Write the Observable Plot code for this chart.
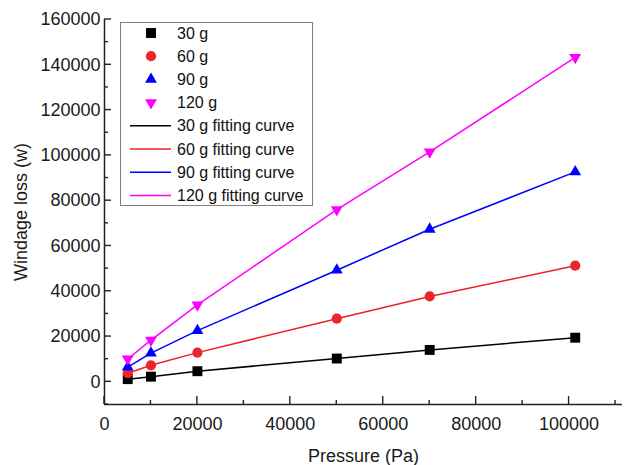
<!DOCTYPE html>
<html><head><meta charset="utf-8">
<script src="https://cdn.jsdelivr.net/npm/d3@7"></script>
<script src="https://cdn.jsdelivr.net/npm/@observablehq/plot@0.6"></script>
<style>body{margin:0;background:#fff}</style>
</head><body><div id="chart"></div>
<script>
const pressure = [5000, 10000, 20000, 50000, 70000, 101325];
const loss30 = [1200, 2300, 4700, 10300, 14100, 19500];
const loss60 = [3800, 7300, 12900, 27900, 37700, 51300];
const loss90 = [6500, 12700, 22600, 49300, 67400, 92700];
const loss120 = [10100, 18400, 34000, 76000, 101500, 143300];
const seriesNames = ["30 g", "60 g", "90 g", "120 g"];
const seriesColors = ["#000000", "#e8262b", "#0000ff", "#ff00ff"];
const lineColors = ["#000000", "#f02020", "#0000ff", "#ff00ff"];
const xMajor = [0, 20000, 40000, 60000, 80000, 100000];
const xMinor = [10000, 30000, 50000, 70000, 90000, 110000];
const yMajor = [0, 20000, 40000, 60000, 80000, 100000, 120000, 140000, 160000];
const yMinor = [-10000, 10000, 30000, 50000, 70000, 90000, 110000, 130000, 150000];

const allSeries = [loss30, loss60, loss90, loss120];
const rows = [];
allSeries.forEach((arr, i) => arr.forEach((v, j) => rows.push({s: seriesNames[i], i, x: pressure[j], y: v})));

const symbols = ["square", "circle", "triangle", "triangle"];
const rot = [0, 0, 0, 180];
const rs = [5.6, 5.1, 4.4, 4.4];

const font = "Liberation Sans, Arial, sans-serif";
const marks = [];
seriesNames.forEach((name, i) => {
  const d = rows.filter(r => r.i === i);
  marks.push(Plot.line(d, {x: "x", y: "y", stroke: lineColors[i], strokeWidth: 1.5}));
});
seriesNames.forEach((name, i) => {
  const d = rows.filter(r => r.i === i);
  marks.push(Plot.dot(d, {x: "x", y: "y", symbol: () => symbols[i], fill: seriesColors[i], r: rs[i], rotate: rot[i], stroke: "none"}));
});

const axisColor = "#222";
const plot = Plot.plot({
  width: 625, height: 465,
  marginLeft: 104, marginRight: 3, marginTop: 19, marginBottom: 61,
  style: {fontFamily: font, fontSize: "18px", color: "#1a1a1a", background: "#fff"},
  x: {domain: [0, 111500]},
  y: {domain: [-10000, 160000]},
  symbol: {type: "identity"},
  marks: [
    Plot.axisX({ticks: xMajor, tickSize: 0, tickPadding: 13, tickFormat: d => String(d), label: "Pressure (Pa)", labelAnchor: "center", labelArrow: "none", labelOffset: 57, fontSize: 18}),
    Plot.axisY({ticks: yMajor, tickSize: 0, tickPadding: 4, tickFormat: d => String(d), label: "Windage loss (w)", labelAnchor: "center", labelArrow: "none", labelOffset: 90, fontSize: 18}),
    Plot.ruleX([0], {stroke: axisColor, strokeWidth: 1.5}),
    Plot.ruleY([-10000], {stroke: axisColor, strokeWidth: 1.5}),
    ...marks
  ]
});
document.getElementById("chart").appendChild(plot);

const svg = d3.select(plot);
const sx = plot.scale("x"), sy = plot.scale("y");
// inward ticks, positioned by the plot's scales
const tg = svg.append("g").attr("stroke", axisColor).attr("stroke-width", 1.4);
const x0 = sx.apply(0), yb = sy.apply(-10000);
yMajor.forEach(v => tg.append("line").attr("x1", x0).attr("x2", x0 + 7).attr("y1", sy.apply(v)).attr("y2", sy.apply(v)));
yMinor.forEach(v => tg.append("line").attr("x1", x0).attr("x2", x0 + 4).attr("y1", sy.apply(v)).attr("y2", sy.apply(v)));
xMajor.forEach(v => tg.append("line").attr("y1", yb).attr("y2", yb - 8).attr("x1", sx.apply(v)).attr("x2", sx.apply(v)));
xMinor.forEach(v => tg.append("line").attr("y1", yb).attr("y2", yb - 4).attr("x1", sx.apply(v)).attr("x2", sx.apply(v)));

// legend
const lg = svg.append("g").attr("font-family", font).attr("font-size", 16).attr("fill", "#111").attr("text-anchor", "start");
lg.append("rect").attr("x", 120.5).attr("y", 22.5).attr("width", 192).attr("height", 183)
  .attr("fill", "#fff").attr("stroke", "#808080").attr("stroke-width", 1);
const rowY = k => 33 + k * 23.2;
const sym = [d3.symbolSquare, d3.symbolCircle, d3.symbolTriangle, d3.symbolTriangle];
seriesNames.forEach((name, i) => {
  lg.append("path").attr("d", d3.symbol(sym[i], rs[i] * rs[i] * Math.PI)())
    .attr("transform", `translate(151,${rowY(i)}) rotate(${rot[i]})`).attr("fill", seriesColors[i]);
  lg.append("text").attr("x", 177).attr("y", rowY(i)).attr("dy", "0.35em").text(name);
});
seriesNames.forEach((name, i) => {
  const y = rowY(i + 4);
  lg.append("line").attr("x1", 130).attr("x2", 171).attr("y1", y).attr("y2", y).attr("stroke", lineColors[i]).attr("stroke-width", 1.5);
  lg.append("text").attr("x", 177).attr("y", y).attr("dy", "0.35em").text(name + " fitting curve");
});
</script></body></html>
